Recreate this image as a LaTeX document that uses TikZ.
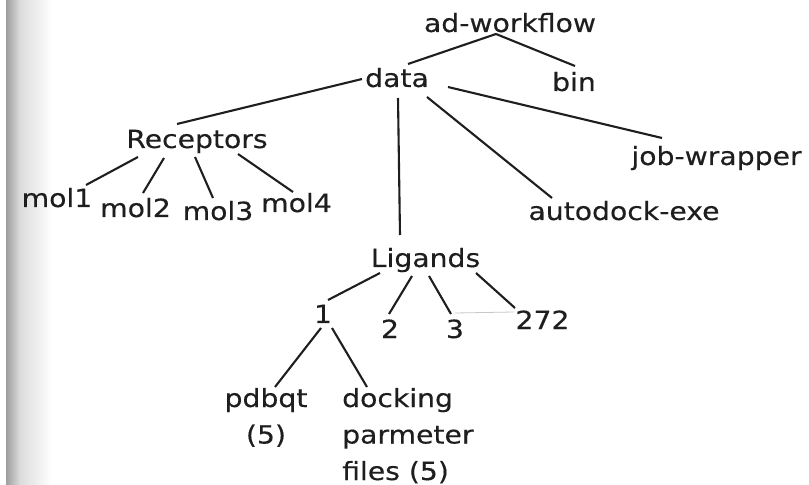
\documentclass[tikz,border=0pt]{standalone}
\usepackage{fontspec}
\setmainfont{DejaVu Sans}[FakeStretch=1.13, FakeBold=0.3]
\definecolor{ink}{HTML}{1E1E1E}
\definecolor{edgeshadeA}{HTML}{9E9E9E}
\definecolor{edgeshadeB}{HTML}{DCDCDC}
\definecolor{faint}{HTML}{C8C8C8}
\tikzset{
  lbl/.style={anchor=base, inner sep=0pt, text=ink,
    font=\fontsize{25bp}{36.5bp}\selectfont},
  link/.style={draw=ink, line width=2.1bp},
  thinlink/.style={draw=faint, line width=0.8bp},
}
\begin{document}
\begin{tikzpicture}[x=1bp, y=-1bp]
\useasboundingbox (0,0) rectangle (809,485);
\fill[white] (0,0) rectangle (809,485);
% shaded strip along the left edge
\shade[left color=edgeshadeA, right color=edgeshadeB] (6,0) rectangle (20,485);
\shade[left color=edgeshadeB, right color=white] (20,0) rectangle (52,485);

% directory names (multi-line nodes sit on the baseline of their last line)
\node[lbl] (aw)   at (510,32)    {ad-workflow};
\node[lbl] (data) at (397,87)    {data};
\node[lbl] (bin)  at (574,91)    {bin};
\node[lbl] (rec)  at (197,148)   {Receptors};
\node[lbl] (job)  at (716.5,165) {job-wrapper};
\node[lbl] (mol1) at (57,207)    {mol1};
\node[lbl] (mol2) at (135.5,217) {mol2};
\node[lbl] (mol3) at (218,220)   {mol3};
\node[lbl] (mol4) at (296.5,212) {mol4};
\node[lbl] (ade)  at (624,220)   {autodock-exe};
\node[lbl] (lig)  at (425.5,267) {Ligands};
\node[lbl] (n1)   at (323,323)   {1};
\node[lbl] (n2)   at (390,338)   {2};
\node[lbl] (n3)   at (455,338)   {3};
\node[lbl] (n272) at (542.5,329) {272};
\node[lbl, align=center] (pdb) at (266,443.5) {pdbqt\\(5)};
\node[lbl, anchor=base west, align=left] (dock) at (342,480) {docking\\parmeter\\files (5)};

% tree links
\draw[link] ([shift={(-14,2)}]aw.base)    -- ([shift={(11,-23)}]data.base);
\draw[link] ([shift={(-14,2)}]aw.base)    -- ([shift={(1,-25)}]bin.base);
\draw[link] ([shift={(-35,-8)}]data.base) -- ([shift={(-20,-24)}]rec.base);
\draw[link] ([shift={(1,11)}]data.base)   -- ([shift={(-25.5,-32)}]lig.base);
\draw[link] ([shift={(30,10)}]data.base)  -- ([shift={(-72,-22)}]ade.base);
\draw[link] ([shift={(51,0)}]data.base)   -- ([shift={(-54.5,-27)}]job.base);

\draw[link] ([shift={(-59,9)}]rec.base)  -- ([shift={(29,-22)}]mol1.base);
\draw[link] ([shift={(-33,10)}]rec.base) -- ([shift={(7.5,-24)}]mol2.base);
\draw[link] ([shift={(-2,9)}]rec.base)   -- ([shift={(-5,-22)}]mol3.base);
\draw[link] ([shift={(41,6)}]rec.base)   -- ([shift={(-3.5,-20)}]mol4.base);

\draw[link] ([shift={(-45.5,6)}]lig.base) -- ([shift={(5,-23)}]n1.base);
\draw[link] ([shift={(-13.5,9)}]lig.base) -- ([shift={(-1,-24)}]n2.base);
\draw[link] ([shift={(3.5,9)}]lig.base)   -- ([shift={(-4,-24)}]n3.base);
\draw[link] ([shift={(50.5,6)}]lig.base)  -- ([shift={(-27.5,-21)}]n272.base);
\draw[thinlink] ([shift={(0,-25)}]n3.base) -- ([shift={(-28.5,-17)}]n272.base);

\draw[link] ([shift={(-2,5)}]n1.base) -- ([shift={(9,-56.5)}]pdb.base);
\draw[link] ([shift={(9,5)}]n1.base)  -- ([shift={(25,-93)}]dock.base west);
\end{tikzpicture}
\end{document}
